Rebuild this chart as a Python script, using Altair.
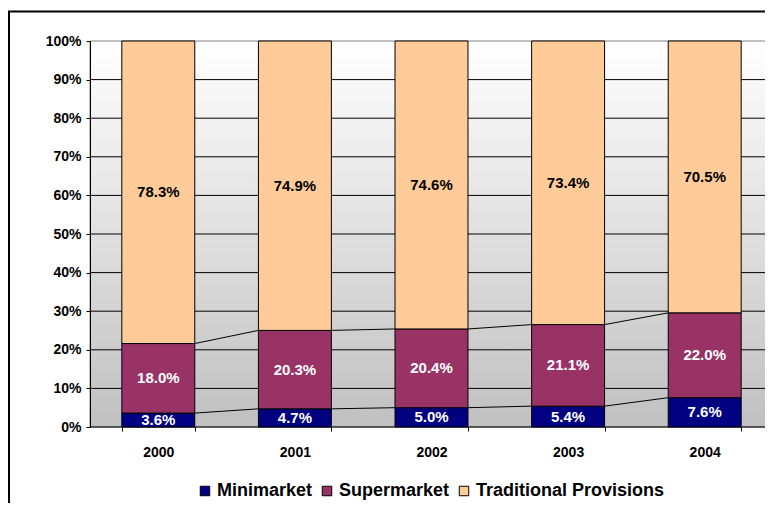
import altair as alt
import pandas as pd

years = ["2000", "2001", "2002", "2003", "2004"]
series = ["Minimarket", "Supermarket", "Traditional Provisions"]
minimarket = [3.6, 4.7, 5.0, 5.4, 7.6]
supermarket = [18.0, 20.3, 20.4, 21.1, 22.0]
traditional = [78.3, 74.9, 74.6, 73.4, 70.5]
colors = ["#000080", "#993366", "#FFCC99"]
grid_vals = [0.0, 0.1, 0.2, 0.3, 0.4, 0.5, 0.6, 0.7, 0.8, 0.9]

FONT = "Liberation Sans"
W, H = 683, 386

rows = []
for i, y in enumerate(years):
    for k, (s, vals) in enumerate(zip(series, [minimarket, supermarket, traditional])):
        rows.append({"year": y, "series": s, "value": vals[i], "order": k,
                     "label": f"{vals[i]:.1f}%"})
df = pd.DataFrame(rows)

# series lines (connect tops of stacked segments between adjacent bars)
lrows = []
for i in range(len(years) - 1):
    t0 = minimarket[i] + supermarket[i] + traditional[i]
    t1 = minimarket[i + 1] + supermarket[i + 1] + traditional[i + 1]
    lrows.append({"year": years[i], "next": years[i + 1],
                  "top": minimarket[i] / t0, "top2": minimarket[i + 1] / t1})
    lrows.append({"year": years[i], "next": years[i + 1],
                  "top": (minimarket[i] + supermarket[i]) / t0,
                  "top2": (minimarket[i + 1] + supermarket[i + 1]) / t1})
dl = pd.DataFrame(lrows)

xscale = alt.Scale(domain=years, paddingInner=0.466, paddingOuter=0.233)
yscale = alt.Scale(domain=[0, 1], nice=False)

xaxis = alt.Axis(title=None, tickBand="extent", domain=False, labelFont=FONT,
                 labelFontSize=14, labelFontWeight="bold", labelColor="black",
                 tickColor="black", tickSize=4, labelPadding=14, labelAngle=0,
                 zindex=1)
yaxis = alt.Axis(title=None, values=[0, 0.1, 0.2, 0.3, 0.4, 0.5, 0.6, 0.7, 0.8, 0.9, 1.0],
                 format=".0%", grid=False, labelFont=FONT, labelFontSize=14,
                 labelFontWeight="bold", labelColor="black", tickColor="black",
                 tickSize=4, domainColor="black", labelPadding=5, zindex=1)

one = pd.DataFrame({"a": [0]})

gradient = alt.Gradient(
    gradient="linear",
    stops=[alt.GradientStop(color="#ffffff", offset=0),
           alt.GradientStop(color="#c0c0c0", offset=1)],
    x1=0, x2=0, y1=0, y2=1,
)

bg = alt.Chart(one).mark_rect(fill=gradient, stroke="#808080", strokeWidth=1).encode(
    x=alt.value(0), x2=alt.value(W), y=alt.value(0), y2=alt.value(H)
)

border = alt.Chart(one).mark_rect(filled=False, stroke="black", strokeWidth=2, clip=False).encode(
    x=alt.value(-81), x2=alt.value(W + 60), y=alt.value(-29.5), y2=alt.value(H + 140)
)

grid = alt.Chart(pd.DataFrame({"g": grid_vals})).mark_rule(color="black", strokeWidth=1).encode(
    y=alt.Y("g:Q", scale=yscale, axis=yaxis), x=alt.value(0), x2=alt.value(W)
)

base = alt.Chart(df).transform_stack(
    stack="value", groupby=["year"], as_=["y0", "y1"], offset="normalize",
    sort=[alt.SortField("order", order="ascending")]
)

bars = base.mark_bar(stroke="black", strokeWidth=1).encode(
    x=alt.X("year:N", scale=xscale, axis=xaxis),
    y=alt.Y("y0:Q", scale=yscale, axis=yaxis),
    y2="y1:Q",
    color=alt.Color("series:N", scale=alt.Scale(domain=series, range=colors),
                    legend=alt.Legend(title=None, orient="none", direction="horizontal",
                                      legendX=106, legendY=441, symbolType="square",
                                      symbolSize=90, symbolStrokeColor="black",
                                      symbolStrokeWidth=1, symbolOpacity=1,
                                      labelFont=FONT, labelFontSize=18,
                                      labelFontWeight="bold", labelColor="black",
                                      labelOffset=3, columnPadding=5, labelLimit=0)),
)

text = base.transform_calculate(mid="(datum.y0 + datum.y1) / 2").mark_text(
    font=FONT, fontSize=15, fontWeight="bold", baseline="middle", align="center"
).encode(
    x=alt.X("year:N", scale=xscale, axis=xaxis),
    y=alt.Y("mid:Q", scale=yscale, axis=yaxis),
    text="label:N",
    color=alt.condition(alt.datum.series == "Traditional Provisions",
                        alt.value("black"), alt.value("white")),
)

lines = alt.Chart(dl).mark_rule(color="black", strokeWidth=1).encode(
    x=alt.X("year:N", scale=xscale, axis=xaxis, bandPosition=1),
    x2=alt.X2("next:N", bandPosition=0),
    y=alt.Y("top:Q", scale=yscale, axis=yaxis),
    y2="top2:Q",
)

chart = alt.layer(bg, grid, bars, lines, text, border).properties(
    width=W, height=H,
    autosize=alt.AutoSizeParams(type="none"),
    padding={"left": 82, "top": 33, "right": -8, "bottom": 76},
    background="white",
).configure_view(stroke=None)

chart.save("out.html", embed_options={"renderer": "svg", "actions": False})
